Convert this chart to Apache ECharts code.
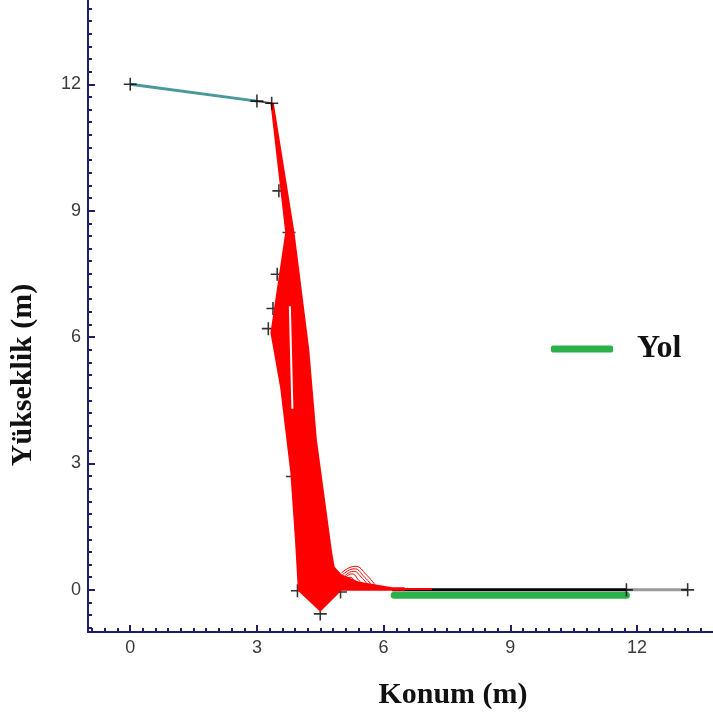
<!DOCTYPE html>
<html>
<head>
<meta charset="utf-8">
<script src="https://cdn.jsdelivr.net/npm/echarts@6/dist/echarts.min.js"></script>
<style>
  html, body { margin: 0; padding: 0; background: #fff; }
  #chart { width: 713px; height: 719px; }
</style>
</head>
<body>
<div id="chart"></div>
<script>
// tick labels
var xTicks = [0, 3, 6, 9, 12];
var yTicks = [0, 3, 6, 9, 12];

// upper slope (teal) and its end piece
var slopeLine = [[0, 12], [3, 11.6]];
var slopeEnd = [[3, 11.6], [3.35, 11.55]];

// red trajectory bundle, outline of the filled body
var redBody = [
    [3.32, 11.55], [3.40, 11.55], [3.89, 8.48], [4.24, 5.7], [4.42, 3.56],
    [4.78, 0.9], [4.84, 0.55], [5.0, 0.37], [5.4, 0.2], [6.2, 0.06],
    [6.5, 0.06], [6.5, -0.02], [5.0, -0.02], [4.5, -0.52], [3.97, -0.02],
    [3.9, 1.2], [3.79, 2.8], [3.55, 4.8], [3.32, 6.1], [3.67, 8.48]
];
// gaps between trajectories
var gapA = [[3.78, 6.73], [3.84, 4.3]];
var gapB = [[4.37, 4.6], [4.77, 1.05]];
// small rebound arcs
var arc1 = [[5.0, 0.4], [5.32, 0.56], [5.6, 0.35], [5.83, 0.07]];
var arc2 = [[5.02, 0.35], [5.3, 0.5], [5.55, 0.3], [5.75, 0.07]];
var arc3 = [[5.05, 0.3], [5.28, 0.44], [5.5, 0.27], [5.66, 0.07]];
var arc4 = [[5.05, 0.25], [5.25, 0.38], [5.42, 0.22], [5.57, 0.07]];
var arc5 = [[5.05, 0.2], [5.2, 0.3], [5.35, 0.18], [5.48, 0.07]];
var redTail = [[6.2, 0.02], [7.15, 0.02]];

// ground
var groundBlack = [[6.2, 0], [11.75, 0]];
var groundGray = [[11.75, 0], [13.2, 0]];
var yol = [[6.25, -0.13], [11.75, -0.13]];

// + markers
var topMarks = [[0, 12], [3, 11.6], [3.35, 11.55], [11.75, 0], [13.2, 0]];
var hiddenMarks = [
    [3.52, 9.47], [3.76, 8.48], [3.48, 7.49], [3.38, 6.68], [3.27, 6.2],
    [3.84, 2.69], [3.96, -0.02], [4.5, -0.57], [4.98, -0.05]
];

var minorX = [], minorY = [];
for (var v = -0.9; v < 13.8; v += 0.3) minorX.push(Math.round(v * 10) / 10);
for (var w = -0.9; w < 14; w += 0.3) minorY.push(Math.round(w * 10) / 10);

var plus = 'path://M0,4.4H10V5.6H0ZM4.4,0H5.6V10H4.4Z';
var axisColor = '#1d1d6b';
var labelStyle = { fontFamily: 'Liberation Sans', fontSize: 18, color: '#3a3a3a', margin: 7 };
var nameStyle = { fontFamily: 'Liberation Serif', fontWeight: 'bold', fontSize: 30, color: '#111' };

function redArc(d) {
    return {
        type: 'line', data: d, smooth: 0.5, symbol: 'none', silent: true, z: 6,
        lineStyle: { color: '#ff0000', width: 1 }
    };
}

var chart = echarts.init(document.getElementById('chart'));
var option = {
    animation: false,
    grid: { left: 86, right: 0, top: 0, bottom: 87 },
    legend: {
        data: ['Yol'],
        left: 546,
        top: 328,
        icon: 'roundRect',
        itemWidth: 62,
        itemHeight: 7,
        textStyle: { fontFamily: 'Liberation Serif', fontWeight: 'bold', fontSize: 32, color: '#111', padding: [0, 0, 0, 19] }
    },
    xAxis: [{
        type: 'value', min: -1, max: 13.8,
        name: 'Konum (m)', nameLocation: 'middle', nameGap: 48,
        nameTextStyle: Object.assign({ padding: [0, 0, 0, 105] }, nameStyle),
        axisLine: { onZero: false, lineStyle: { color: axisColor, width: 2 } },
        axisTick: { inside: true, length: 7, customValues: xTicks, lineStyle: { color: axisColor, width: 2 } },
        axisLabel: Object.assign({ customValues: xTicks }, labelStyle),
        splitLine: { show: false }
    }, {
        type: 'value', min: -1, max: 13.8, position: 'bottom',
        axisLine: { show: false, onZero: false },
        axisTick: { inside: true, length: 4, customValues: minorX, lineStyle: { color: axisColor, width: 2 } },
        axisLabel: { show: false },
        splitLine: { show: false }
    }],
    yAxis: [{
        type: 'value', min: -1, max: 14,
        name: 'Yükseklik (m)', nameLocation: 'middle', nameGap: 50,
        nameTextStyle: Object.assign({ padding: [0, 118, 0, 0] }, nameStyle),
        axisLine: { onZero: false, lineStyle: { color: axisColor, width: 2 } },
        axisTick: { inside: true, length: 7, customValues: yTicks, lineStyle: { color: axisColor, width: 2 } },
        axisLabel: Object.assign({ customValues: yTicks }, labelStyle),
        splitLine: { show: false }
    }, {
        type: 'value', min: -1, max: 14, position: 'left',
        axisLine: { show: false, onZero: false },
        axisTick: { inside: true, length: 4, customValues: minorY, lineStyle: { color: axisColor, width: 2 } },
        axisLabel: { show: false },
        splitLine: { show: false }
    }],
    series: [
        {
            name: 'Yol', type: 'line', data: yol, symbol: 'none', z: 2,
            lineStyle: { color: '#2bb04a', width: 7, cap: 'round' }, itemStyle: { color: '#2bb04a' }
        },
        { type: 'line', data: groundBlack, symbol: 'none', z: 3, silent: true, lineStyle: { color: '#000', width: 3 } },
        { type: 'line', data: groundGray, symbol: 'none', z: 3, silent: true, lineStyle: { color: '#9a9a9a', width: 3 } },
        { type: 'line', data: slopeLine, symbol: 'none', z: 3, silent: true, lineStyle: { color: '#4a9898', width: 3 } },
        { type: 'line', data: slopeEnd, symbol: 'none', z: 3, silent: true, lineStyle: { color: '#555', width: 2 } },
        {
            type: 'scatter', data: hiddenMarks, symbol: plus, symbolSize: 13, z: 4, silent: true,
            itemStyle: { color: '#000' }
        },
        {
            type: 'custom', data: redBody, z: 5, silent: true,
            renderItem: function (params, api) {
                if (params.dataIndex !== 0) return;
                var pts = redBody.map(function (p) { return api.coord(p); });
                return { type: 'polygon', shape: { points: pts }, style: { fill: '#ff0000' } };
            }
        },
        { type: 'line', data: gapA, symbol: 'none', z: 6, silent: true, lineStyle: { color: '#fff', width: 2 } },
        { type: 'line', data: gapB, symbol: 'none', z: 6, silent: true, lineStyle: { color: '#fff', width: 1, type: [3, 4] } },
        redArc(arc1), redArc(arc2), redArc(arc3), redArc(arc4), redArc(arc5),
        { type: 'line', data: redTail, symbol: 'none', z: 6, silent: true, lineStyle: { color: '#ff0000', width: 2 } },
        {
            type: 'scatter', data: topMarks, symbol: plus, symbolSize: 13, z: 7, silent: true,
            itemStyle: { color: '#000' }
        }
    ]
};
chart.setOption(option);
</script>
</body>
</html>
